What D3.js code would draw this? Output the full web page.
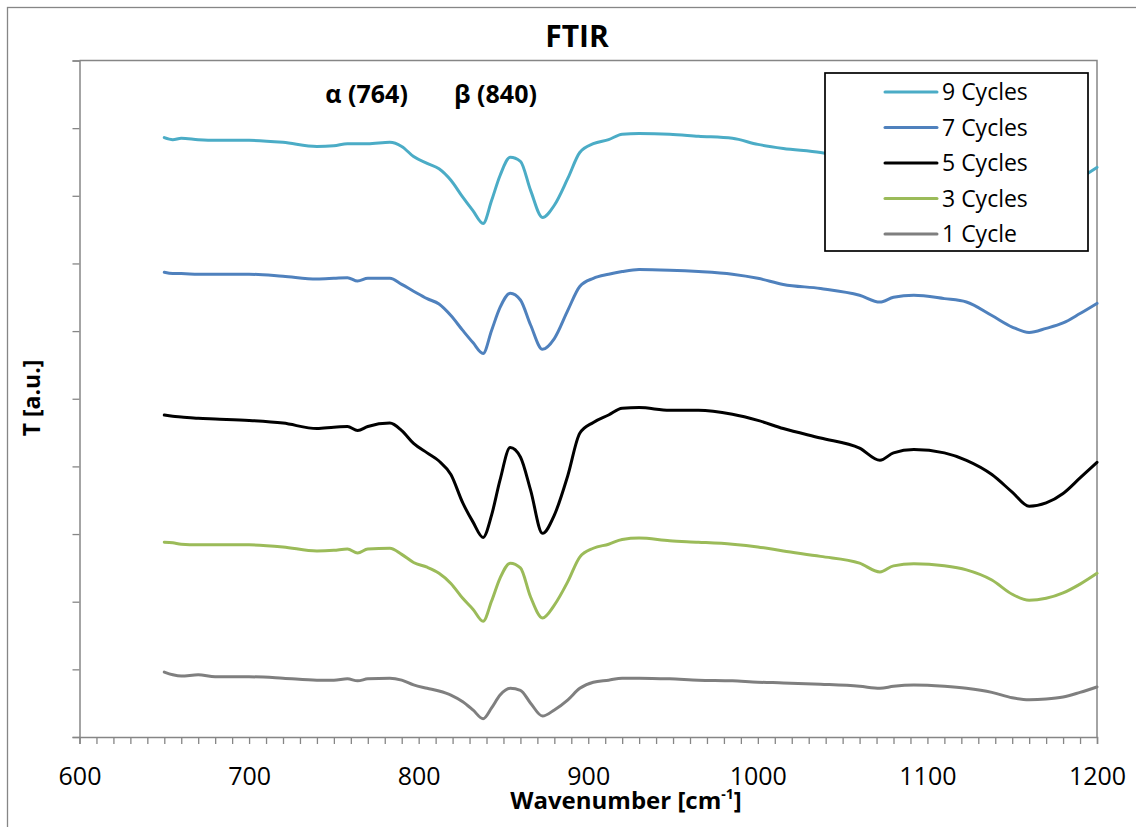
<!DOCTYPE html>
<html>
<head>
<meta charset="utf-8">
<script src="https://cdn.jsdelivr.net/npm/d3@7"></script>
<style>
  html, body { margin: 0; padding: 0; background: #fff; }
  svg { display: block; }
  text { font-family: "Open Sans", "Noto Sans", sans-serif; fill: #000; }
</style>
</head>
<body>
<svg id="chart" width="1136" height="827"></svg>
<script>
// ---- data ----
const wavenumbers = [650, 655, 660, 670, 680, 700, 720, 740, 750, 758, 764, 770, 783, 790, 797, 805, 812, 819, 826, 832, 838, 843, 848, 854, 860, 866, 873, 880, 888, 895, 903, 912, 920, 930, 948, 965, 985, 1000, 1015, 1037, 1060, 1072, 1080, 1092, 1110, 1123, 1138, 1150, 1160, 1170, 1180, 1190, 1200];

const cycles9 = [88.6, 88.3, 88.5, 88.3, 88.2, 88.2, 87.9, 87.3, 87.4, 87.7, 87.7, 87.7, 87.9, 87.3, 85.8, 84.8, 84.0, 82.3, 79.8, 77.8, 75.9, 79.3, 83.0, 85.7, 85.1, 80.8, 76.8, 78.6, 82.6, 86.4, 87.7, 88.3, 89.1, 89.2, 89.1, 88.8, 88.5, 87.6, 87.0, 86.4, 85.2, 84.2, 84.9, 85.2, 84.8, 84.2, 82.3, 80.5, 79.8, 80.4, 81.1, 82.6, 84.2];

const cycles7 = [68.7, 68.5, 68.5, 68.4, 68.4, 68.4, 68.1, 67.7, 67.8, 67.9, 67.4, 67.8, 67.8, 66.9, 65.9, 64.8, 64.0, 62.3, 60.1, 58.3, 56.7, 60.1, 63.5, 65.6, 64.6, 60.9, 57.3, 58.9, 63.1, 66.6, 67.8, 68.4, 68.8, 69.1, 69.0, 68.8, 68.4, 67.8, 66.9, 66.3, 65.3, 64.3, 65.0, 65.3, 64.8, 64.3, 62.3, 60.6, 59.8, 60.4, 61.2, 62.6, 64.1];

const cycles5 = [47.6, 47.4, 47.3, 47.1, 47.0, 46.8, 46.4, 45.6, 45.8, 45.9, 45.3, 45.9, 46.4, 45.3, 43.4, 42.0, 40.8, 38.8, 34.6, 31.8, 29.5, 32.8, 38.0, 42.8, 41.4, 36.5, 30.1, 32.8, 38.7, 44.9, 46.5, 47.6, 48.6, 48.7, 48.3, 48.3, 47.7, 46.8, 45.6, 44.2, 42.7, 40.9, 42.0, 42.5, 42.0, 40.9, 38.8, 36.2, 34.1, 34.6, 36.0, 38.3, 40.6];

const cycles3 = [28.8, 28.7, 28.5, 28.4, 28.4, 28.4, 28.1, 27.5, 27.6, 27.8, 27.2, 27.8, 27.9, 27.0, 25.8, 25.1, 24.2, 22.7, 20.5, 18.9, 17.1, 20.1, 23.5, 25.7, 25.0, 20.7, 17.6, 19.5, 23.0, 26.6, 27.9, 28.5, 29.2, 29.4, 29.0, 28.8, 28.5, 28.1, 27.5, 26.7, 25.7, 24.4, 25.3, 25.6, 25.3, 24.7, 23.2, 21.1, 20.2, 20.5, 21.3, 22.6, 24.2];

const cycles1 = [9.6, 9.2, 9.0, 9.2, 8.9, 8.9, 8.7, 8.4, 8.4, 8.6, 8.3, 8.6, 8.7, 8.4, 7.7, 7.2, 6.8, 6.2, 5.2, 4.0, 2.7, 4.3, 6.2, 7.2, 6.9, 5.0, 3.1, 4.0, 5.5, 7.2, 8.1, 8.4, 8.7, 8.7, 8.6, 8.4, 8.3, 8.1, 8.0, 7.8, 7.5, 7.2, 7.5, 7.7, 7.5, 7.2, 6.6, 5.8, 5.5, 5.6, 5.9, 6.6, 7.4];

const seriesNames = ["9 Cycles", "7 Cycles", "5 Cycles", "3 Cycles", "1 Cycle"];
const seriesColors = ["#4BACC6", "#4F81BD", "#000000", "#9BBB59", "#7F7F7F"];
const seriesValues = [cycles9, cycles7, cycles5, cycles3, cycles1];

const xTickValues = [600, 700, 800, 900, 1000, 1100, 1200];
const annotations = [{ label: "α (764)", wn: 764 }, { label: "β (840)", wn: 840 }];

const chartTitle = "FTIR";
const xTitle = "Wavenumber [cm";
const xTitleSup = "-1";
const yTitle = "T [a.u.]";

// ---- layout ----
const svg = d3.select("#chart");
const plot = { left: 79.5, right: 1097, top: 60.5, bottom: 737 };
const axisColor = "#868686";

const x = d3.scaleLinear().domain([600, 1200]).range([plot.left, plot.right]);
const y = d3.scaleLinear().domain([0, 100]).range([plot.bottom, plot.top]);

// outer chart frame (extends beyond the photographed area)
svg.append("rect")
  .attr("x", 7.5).attr("y", 7.5)
  .attr("width", 1300).attr("height", 1000)
  .attr("fill", "none").attr("stroke", axisColor).attr("stroke-width", 1.3);

// plot area frame (top + right)
svg.append("path")
  .attr("d", `M${plot.left},${plot.top}H${plot.right}V${plot.bottom}`)
  .attr("fill", "none").attr("stroke", axisColor).attr("stroke-width", 1.5);

// y axis (no labels)
const yAxis = d3.axisLeft(y).tickValues(d3.range(0, 101, 10)).tickSize(7).tickFormat("");
const gy = svg.append("g").attr("transform", `translate(${plot.left},0)`).call(yAxis);
gy.select(".domain").attr("stroke", axisColor).attr("stroke-width", 1.5);
gy.selectAll(".tick line").attr("stroke", axisColor).attr("stroke-width", 1.3);

// x axis: minor ticks every 10, labels every 100
const xAxisMinor = d3.axisBottom(x).tickValues(d3.range(600, 1201, 10)).tickSize(7).tickFormat("");
const gx = svg.append("g").attr("transform", `translate(0,${plot.bottom})`).call(xAxisMinor);
gx.select(".domain").attr("stroke", axisColor).attr("stroke-width", 1.5);
gx.selectAll(".tick line").attr("stroke", axisColor).attr("stroke-width", 1.3);

const xAxisLabels = d3.axisBottom(x).tickValues(xTickValues).tickSize(0).tickPadding(0).tickFormat(d3.format("d"));
const gxl = svg.append("g").attr("transform", `translate(0,${plot.bottom})`).call(xAxisLabels);
gxl.select(".domain").remove();
gxl.selectAll(".tick text")
  .attr("dy", null).attr("y", 48)
  .style("font-family", "'Open Sans', sans-serif")
  .style("font-size", "25px").attr("fill", "#000");

// series lines
const line = d3.line()
  .x((d, i) => x(wavenumbers[i]))
  .y(d => y(d))
  .curve(d3.curveMonotoneX);

const order = [4, 3, 2, 1, 0];
order.forEach(k => {
  svg.append("path")
    .datum(seriesValues[k])
    .attr("d", line)
    .attr("fill", "none")
    .attr("stroke", seriesColors[k])
    .attr("stroke-width", 3)
    .attr("stroke-linejoin", "round")
    .attr("stroke-linecap", "round");
});

// title
svg.append("text")
  .attr("x", 577).attr("y", 47)
  .attr("text-anchor", "middle")
  .style("font-size", "30px").style("font-weight", "bold")
  .text(chartTitle);

// annotations (placed just right of their wavenumber, as in the reference)
annotations.forEach(a => {
  svg.append("text")
    .attr("x", x(a.wn) + 9).attr("y", 103)
    .attr("text-anchor", "middle")
    .style("font-size", "25px").style("font-weight", "bold")
    .text(a.label);
});

// x title with superscript
const xt = svg.append("text")
  .attr("x", 626).attr("y", 809)
  .attr("text-anchor", "middle")
  .style("font-size", "24px").style("font-weight", "bold");
xt.append("tspan").text(xTitle);
xt.append("tspan").attr("dy", -10).style("font-size", "14px").text(xTitleSup);
xt.append("tspan").attr("dy", 10).text("]");

// y title
svg.append("text")
  .attr("transform", "translate(40,398) rotate(-90)")
  .attr("text-anchor", "middle")
  .style("font-size", "23px").style("font-weight", "bold")
  .text(yTitle);

// legend
const legend = svg.append("g");
legend.append("rect")
  .attr("x", 825).attr("y", 73)
  .attr("width", 263).attr("height", 178)
  .attr("fill", "#fff").attr("stroke", "#000").attr("stroke-width", 1.7);
const legendRowY = d3.scalePoint().domain(seriesNames).range([92, 234]);
seriesNames.forEach((name, k) => {
  const ry = legendRowY(name);
  legend.append("line")
    .attr("x1", 885).attr("x2", 937)
    .attr("y1", ry).attr("y2", ry)
    .attr("stroke", seriesColors[k]).attr("stroke-width", 3)
    .attr("stroke-linecap", "round");
  legend.append("text")
    .attr("x", 942).attr("y", ry + 8)
    .style("font-size", "23px")
    .text(name);
});
</script>
</body>
</html>
